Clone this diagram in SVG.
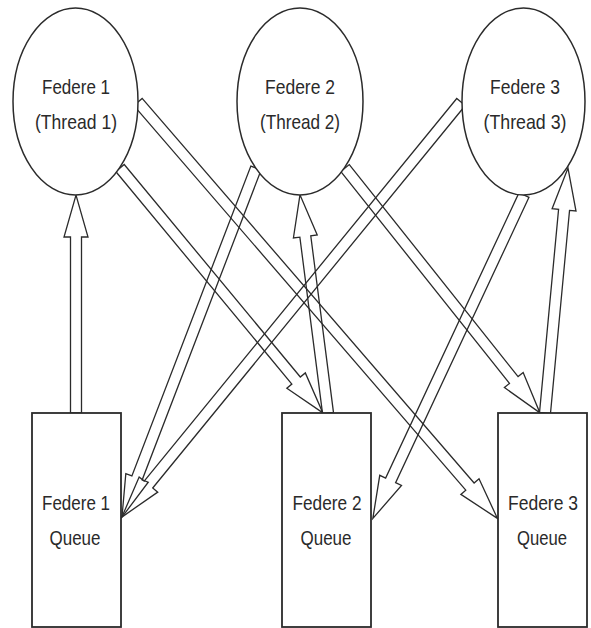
<svg xmlns="http://www.w3.org/2000/svg" width="591" height="628" viewBox="0 0 591 628">
  <style>
    .bg { fill: #ffffff; }
    .arrow { fill: none; stroke: #2b2b2b; stroke-width: 1.3; stroke-linejoin: miter; }
    .federe { fill: #ffffff; stroke: #2b2b2b; stroke-width: 1.5; }
    .queue { fill: #ffffff; stroke: #2b2b2b; stroke-width: 1.8; }
    .label { font-family: "Liberation Sans", Arial, sans-serif; font-size: 21px; fill: #2a2a2a; text-anchor: middle; }
  </style>
  <rect class="bg" x="0" y="0" width="591" height="628"/>

  <!-- block arrows, drawn along +x in local space: shaft then head (42 long) -->
  <g id="connectors">
    <!-- Queue 1 -> Federe 1 -->
    <path class="arrow" transform="translate(76,413) rotate(-90)" d="M0,-5.5 H176 V-12 L218,0 L176,12 V5.5 H0 Z"/>
    <!-- Federe 1 -> Queue 2 -->
    <path class="arrow" transform="translate(120,168) rotate(50.36)" d="M0,-5.5 H276 V-12 L318,0 L276,12 V5.5 H0 Z"/>
    <!-- Federe 1 -> Queue 3 -->
    <path class="arrow" transform="translate(138,102) rotate(49.2)" d="M0,-5.5 H508 V-12 L550,0 L508,12 V5.5 H0 Z"/>
    <!-- Federe 2 -> Queue 1 -->
    <path class="arrow" transform="translate(256,168) rotate(111.0)" d="M0,-5.5 H332 V-12 L374,0 L332,12 V5.5 H0 Z"/>
    <!-- Federe 3 -> Queue 1 -->
    <path class="arrow" transform="translate(461,102) rotate(129.25)" d="M0,-5.5 H494 V-12 L536,0 L494,12 V5.5 H0 Z"/>
    <!-- Queue 2 -> Federe 2 -->
    <path class="arrow" transform="translate(328,413) rotate(-97.32)" d="M0,-5.5 H178 V-12 L220,0 L178,12 V5.5 H0 Z"/>
    <!-- Federe 2 -> Queue 3 -->
    <path class="arrow" transform="translate(345,168) rotate(51.48)" d="M0,-5.5 H271 V-12 L313,0 L271,12 V5.5 H0 Z"/>
    <!-- Federe 3 -> Queue 2 -->
    <path class="arrow" transform="translate(524,195) rotate(115.05)" d="M0,-5.5 H315 V-12 L357,0 L315,12 V5.5 H0 Z"/>
    <!-- Queue 3 -> Federe 3 -->
    <path class="arrow" transform="translate(545,413) rotate(-84.64)" d="M0,-5.5 H204 V-12 L246,0 L204,12 V5.5 H0 Z"/>
  </g>

  <g id="federe1">
    <ellipse class="federe" cx="75.5" cy="101.5" rx="62.5" ry="93.5"/>
    <text class="label" x="76" y="94" textLength="68" lengthAdjust="spacingAndGlyphs">Federe 1</text>
    <text class="label" x="76" y="129" textLength="82" lengthAdjust="spacingAndGlyphs">(Thread 1)</text>
  </g>
  <g id="federe2">
    <ellipse class="federe" cx="300" cy="101.5" rx="63" ry="93.5"/>
    <text class="label" x="300" y="94" textLength="70" lengthAdjust="spacingAndGlyphs">Federe 2</text>
    <text class="label" x="300" y="129" textLength="80" lengthAdjust="spacingAndGlyphs">(Thread 2)</text>
  </g>
  <g id="federe3">
    <ellipse class="federe" cx="523.5" cy="101.5" rx="61.5" ry="93.5"/>
    <text class="label" x="525" y="94" textLength="70" lengthAdjust="spacingAndGlyphs">Federe 3</text>
    <text class="label" x="525" y="129" textLength="83" lengthAdjust="spacingAndGlyphs">(Thread 3)</text>
  </g>

  <g id="queue1">
    <rect class="queue" x="32" y="413" width="89" height="214"/>
    <text class="label" x="76" y="510" textLength="68" lengthAdjust="spacingAndGlyphs">Federe 1</text>
    <text class="label" x="75" y="545" textLength="51" lengthAdjust="spacingAndGlyphs">Queue</text>
  </g>
  <g id="queue2">
    <rect class="queue" x="282" y="413" width="89" height="214"/>
    <text class="label" x="327" y="510" textLength="69" lengthAdjust="spacingAndGlyphs">Federe 2</text>
    <text class="label" x="326" y="545" textLength="51" lengthAdjust="spacingAndGlyphs">Queue</text>
  </g>
  <g id="queue3">
    <rect class="queue" x="498" y="413" width="89" height="214"/>
    <text class="label" x="543" y="510" textLength="70" lengthAdjust="spacingAndGlyphs">Federe 3</text>
    <text class="label" x="542" y="545" textLength="50" lengthAdjust="spacingAndGlyphs">Queue</text>
  </g>
</svg>
